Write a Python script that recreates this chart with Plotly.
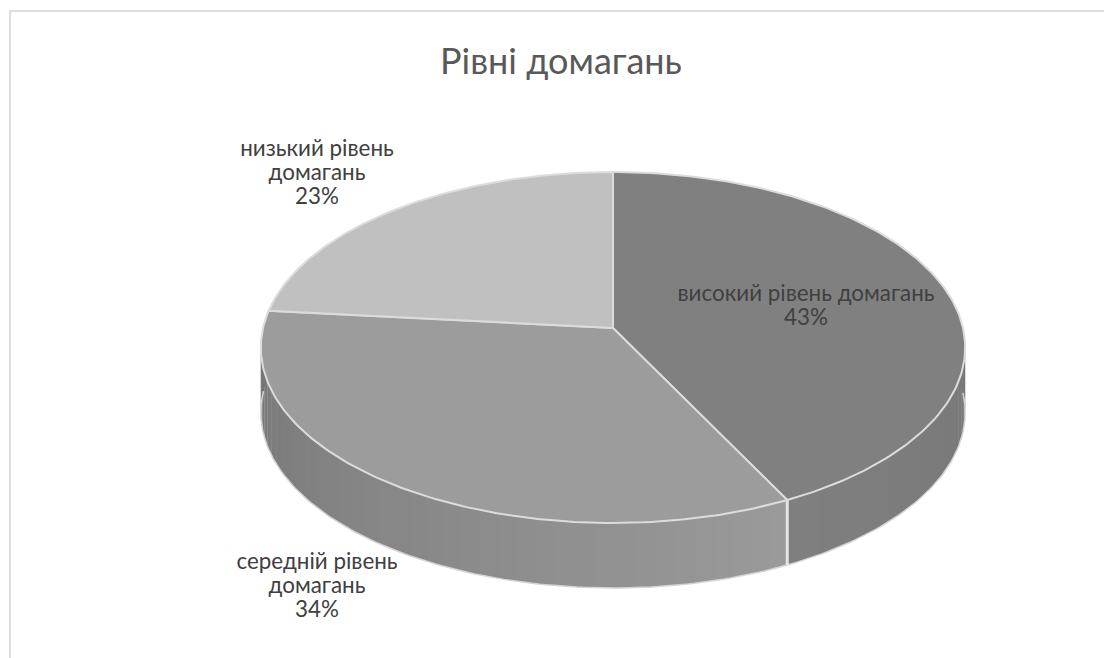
import numpy as np
import plotly.graph_objects as go

categories = ["високий рівень домагань", "середній рівень домагань", "низький рівень домагань"]
values = [42.6, 34.0, 23.4]
label_lines = [["високий рівень домагань"], ["середній рівень", "домагань"], ["низький рівень", "домагань"]]
top_colors = ["#808080", "#9c9c9c", "#c0c0c0"]
wall_colors = {0: ("#6c6c6c", "#808080"), 1: ("#9a9a9a", "#747474")}
label_pos = [(806, 295), (317, 563), (317, 150)]

CX, CY, A, B, K, DEPTH = 613, 328, 173.33, 350, 1 / 9, 65
LINE_STEP = 24.3
FONT = "Lato, Open Sans, sans-serif"


def project(theta, drop=0):
    u, v = np.sin(theta), np.cos(theta)
    w = 1 + K * v
    return CX + B * u / w, CY - A * v / w + drop


fig = go.Figure()

fractions = np.array(values) / sum(values)
edges = np.concatenate([[0], np.cumsum(fractions)]) * 2 * np.pi

# side wall, split in narrow strips to give the banded shading
for i in (0, 1):
    start, end = edges[i], edges[i + 1]
    n = max(int((end - start) / 0.05), 2)
    steps = np.linspace(start, end, n + 1)
    c0, c1 = wall_colors[i]
    rgb0 = np.array([int(c0[j:j + 2], 16) for j in (1, 3, 5)])
    rgb1 = np.array([int(c1[j:j + 2], 16) for j in (1, 3, 5)])
    for s in range(n):
        a, b = steps[s], steps[s + 1] + 0.004
        t = np.linspace(a, min(b, 3 * np.pi / 2 + 0.35), 6)
        xt, yt = project(t)
        xb, yb = project(t, DEPTH)
        mix = rgb0 + (rgb1 - rgb0) * (s / n)
        col = "rgb(%d,%d,%d)" % tuple(mix)
        fig.add_trace(go.Scatter(
            x=np.concatenate([xt, xb[::-1]]), y=np.concatenate([yt, yb[::-1]]),
            mode="lines", fill="toself", fillcolor=col, line=dict(width=0),
            hoverinfo="skip", showlegend=False))

# light outline along the lower edge of the wall
t = np.linspace(edges[0] + 1.57, edges[2] - 0.09, 200)
xb, yb = project(t, DEPTH)
fig.add_trace(go.Scatter(x=xb, y=yb, mode="lines", line=dict(color="#d4d4d4", width=1.5),
                         hoverinfo="skip", showlegend=False))

# light seam on the wall between the first two slices
xs, ys = project(np.array([edges[1], edges[1]]), np.array([0, DEPTH]))
fig.add_trace(go.Scatter(x=xs, y=ys, mode="lines", line=dict(color="#e6e6e6", width=3),
                         hoverinfo="skip", showlegend=False))

# top face slices
for i, name in enumerate(categories):
    t = np.linspace(edges[i], edges[i + 1], 160)
    xr, yr = project(t)
    fig.add_trace(go.Scatter(
        x=np.concatenate([[CX], xr, [CX]]), y=np.concatenate([[CY], yr, [CY]]),
        mode="lines", fill="toself", fillcolor=top_colors[i],
        line=dict(color="#dcdcdc", width=2), name=name, showlegend=False))

# labels: one text per line, for the tighter line spacing of the reference
for i, lines in enumerate(label_lines):
    pct = "%d%%" % round(values[i])
    rows = lines + [pct]
    fig.add_trace(go.Scatter(
        x=[label_pos[i][0]] * len(rows),
        y=[label_pos[i][1] + j * LINE_STEP for j in range(len(rows))],
        mode="text", text=rows, textposition="middle center",
        textfont=dict(family=FONT, size=22.4, color="#404040"),
        hoverinfo="skip", showlegend=False))

fig.add_annotation(x=561, y=60, xref="x", yref="y", text="Рівні домагань", showarrow=False,
                   font=dict(family=FONT, size=36, color="#595959"))

# chart frame: left and top edges only, the right and bottom are outside the crop
fig.add_trace(go.Scatter(x=[10, 10, 1115], y=[670, 11, 11], mode="lines",
                         line=dict(color="#dedede", width=2), hoverinfo="skip", showlegend=False))

# the page has an 8px body margin, so the plot area starts at (8, 8)
fig.update_layout(
    width=1104, height=650, margin=dict(l=0, r=0, t=0, b=0),
    paper_bgcolor="white", plot_bgcolor="white",
    xaxis=dict(range=[8, 1112], visible=False, fixedrange=True),
    yaxis=dict(range=[658, 8], visible=False, fixedrange=True),
)
fig.write_html("out.html", config={"displayModeBar": False})
